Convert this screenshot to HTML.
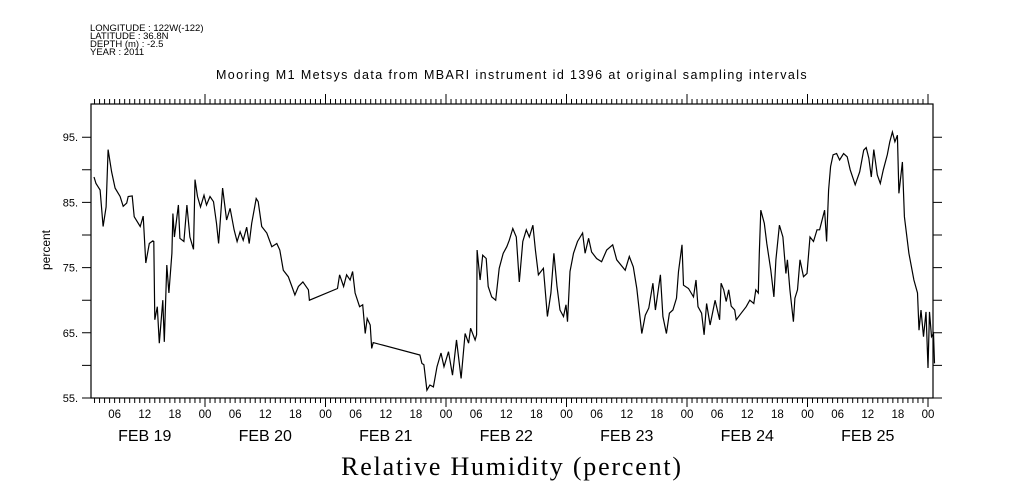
<!DOCTYPE html>
<html><head><meta charset="utf-8">
<style>
html,body{margin:0;padding:0;background:#fff;}
svg{display:block;}
text{font-family:"Liberation Sans",sans-serif;fill:#000;}
</style></head>
<body>
<svg id="chart" width="1009" height="504" viewBox="0 0 1009 504" xmlns="http://www.w3.org/2000/svg">
<g font-size="9.5">
<text x="90" y="31">LONGITUDE : 122W(-122)</text>
<text x="90" y="39">LATITUDE : 36.8N</text>
<text x="90" y="47">DEPTH (m) : -2.5</text>
<text x="90" y="55">YEAR : 2011</text>
</g>
<text x="512" y="79" text-anchor="middle" font-size="12.5" letter-spacing="1.4">Mooring M1 Metsys data from MBARI instrument id 1396 at original sampling intervals</text>
<text x="512" y="475" text-anchor="middle" font-size="26" letter-spacing="1.8" style="font-family:'Liberation Serif',serif">Relative Humidity (percent)</text>
<text x="50" y="250" text-anchor="middle" font-size="12" transform="rotate(-90 50 250)">percent</text>
<g id="axes"></g>
<g id="series"></g>
</svg>
<script>
const hours=[1.9,2.3,2.7,3.1,3.7,4.3,4.7,5.4,6.1,7.1,7.7,8.4,8.7,9.5,9.9,11.1,11.7,12.2,12.9,13.6,13.8,14.0,14.5,14.9,15.6,15.9,16.4,16.8,17.4,17.6,17.9,18.7,19.0,19.8,20.4,21.0,21.7,22.0,22.5,23.1,23.8,24.3,25.0,25.7,26.3,26.7,27.0,27.5,28.3,29.0,29.8,30.4,31.0,31.6,32.3,32.8,33.3,34.2,34.6,35.3,36.3,37.3,38.3,38.9,39.6,40.6,41.3,41.9,42.6,43.5,44.6,44.8,50.4,50.8,51.6,52.2,52.9,53.4,53.9,54.8,55.4,55.9,56.3,56.9,57.2,57.5,66.8,67.2,67.6,68.2,68.8,69.5,70.2,71.0,71.6,72.5,73.3,74.1,75.0,75.8,76.5,76.9,77.8,78.1,78.2,78.8,79.3,80.0,80.4,81.1,81.9,82.6,83.4,84.1,84.6,85.3,86.0,86.6,87.3,88.0,88.6,89.3,89.8,90.4,91.4,92.2,92.9,93.5,94.1,94.7,95.4,95.9,96.2,96.7,97.4,98.2,99.2,99.7,100.4,101.0,102.0,103.0,104.0,105.2,106.0,107.7,108.5,109.3,110.0,111.0,111.7,112.4,113.2,113.7,114.7,115.2,115.9,116.5,117.2,117.9,118.3,119.0,119.3,120.3,121.3,121.8,122.2,122.9,123.4,123.9,124.6,125.6,126.5,126.8,127.3,127.8,128.3,128.8,129.5,129.8,130.8,131.8,132.5,133.3,133.7,134.2,134.4,134.7,135.4,135.9,136.7,137.3,137.7,138.4,139.1,139.7,140.0,140.5,141.2,141.5,142.0,142.5,143.2,143.9,144.5,145.2,145.9,146.4,147.4,147.8,148.2,148.6,149.1,149.8,150.4,151.2,151.9,152.5,153.5,154.4,155.2,155.7,156.2,156.7,157.2,157.9,158.5,159.1,159.9,160.4,160.9,161.4,161.9,162.2,162.9,163.3,164.2,165.2,165.9,166.2,166.6,167.1,167.6,168.0,168.3,168.7,169.1,169.3];
const humidity=[88.9,87.9,87.4,86.9,81.3,84.3,93.1,89.7,87.2,85.9,84.4,84.9,85.9,86.0,82.8,81.3,82.9,75.7,78.7,79.1,79.0,67.0,69.0,63.4,70.0,63.6,75.4,71.1,77.2,83.3,79.7,84.6,79.5,79.0,84.6,79.7,77.8,88.5,85.9,84.3,86.1,84.6,85.9,85.1,81.8,78.7,81.8,87.2,82.3,84.1,80.8,79.0,80.5,79.2,81.2,78.7,81.8,85.6,85.1,81.3,80.3,78.2,78.7,77.7,74.6,73.6,72.1,70.8,72.1,72.8,71.6,70.0,71.8,73.9,72.1,73.9,73.1,74.4,71.1,69.0,69.3,64.9,67.2,66.2,62.6,63.5,61.6,60.3,60.1,56.2,57.0,56.7,59.8,61.9,59.8,62.1,58.5,63.9,58.0,64.9,63.4,65.7,63.9,64.7,77.7,73.1,76.9,76.4,72.1,70.5,70.0,74.9,77.2,78.2,79.2,81.0,79.7,72.8,79.0,80.8,79.7,81.5,77.7,73.9,74.9,67.5,71.1,77.2,72.1,68.5,67.5,69.3,66.7,74.4,77.2,79.0,80.3,77.2,79.5,77.4,76.4,75.9,77.7,78.5,76.2,74.6,76.7,75.1,71.8,64.9,67.7,68.8,72.6,68.5,73.9,67.5,64.9,68.0,68.5,70.3,74.4,78.5,72.3,71.8,70.5,73.1,69.0,68.0,64.7,69.5,66.2,70.0,67.0,72.6,71.6,69.8,71.6,69.1,68.5,67.0,68.0,69.0,70.0,69.5,71.6,71.1,77.2,83.8,81.8,78.7,74.6,70.5,76.2,81.5,79.7,74.1,76.2,71.6,66.7,70.3,71.6,76.2,73.6,74.1,79.7,79.0,80.8,80.8,83.8,79.0,86.9,90.5,92.3,92.5,91.5,92.5,92.0,90.0,87.7,89.7,93.0,93.4,91.8,88.9,93.1,89.2,87.9,90.0,92.3,94.3,95.8,94.3,95.3,86.4,91.2,82.8,77.2,73.1,71.1,65.4,68.5,64.4,68.2,59.6,68.2,64.4,64.9,60.3];
const yTicks=[55,60,65,70,75,80,85,90,95];
const yLabels=["55.","","65.","","75.","","85.","","95."];
const hourLabels=["00","06","12","18"];
const dayLabels=["FEB 19","FEB 20","FEB 21","FEB 22","FEB 23","FEB 24","FEB 25"];

const L=91,R=933,T=104,B=398;
const x=h=>84.5+h*120.5/24;
const y=v=>398-(v-55)*6.52;
const NS="http://www.w3.org/2000/svg";
const axes=document.getElementById('axes');
function mk(tag,attrs,parent){const e=document.createElementNS(NS,tag);for(const k in attrs)e.setAttribute(k,attrs[k]);parent.appendChild(e);return e;}

const frame=mk('rect',{x:L,y:T,width:R-L,height:B-T,fill:'none',stroke:'#000','stroke-width':1.2},axes);



let tp='';
for(let h=0;h<=175;h++){
  const px=x(h); if(px<L||px>R)continue;
  const major=h%24===0;
  tp+=`M${px},${B}v${major?9:5}M${px},${T}v${major?-10:-5}`;
}
yTicks.forEach(v=>{tp+=`M${L},${y(v)}h-9M${R},${y(v)}h9`;});
const ticks=mk('path',{d:tp,stroke:'#000','stroke-width':1,fill:'none'},axes);



yTicks.forEach((v,i)=>{
  if(!yLabels[i])return;
  const t=mk('text',{x:78,y:y(v)+4,'text-anchor':'end','font-size':11},axes);
  t.textContent=yLabels[i];
  
  
});
for(let h=6;h<=168;h+=6){
  const t=mk('text',{x:x(h),y:418,'text-anchor':'middle','font-size':11.5},axes);
  t.textContent=hourLabels[(h/6)%4];
  
  
}
dayLabels.forEach((d,i)=>{
  const t=mk('text',{x:x(i*24+12),y:441,'text-anchor':'middle','font-size':16},axes);
  t.textContent=d;
  
  
});

const pts=hours.map((h,i)=>x(h).toFixed(1)+','+y(humidity[i]).toFixed(1)).join(' ');
const line=mk('polyline',{points:pts,fill:'none',stroke:'#000','stroke-width':1.2},document.getElementById('series'));


</script>
</body></html>
